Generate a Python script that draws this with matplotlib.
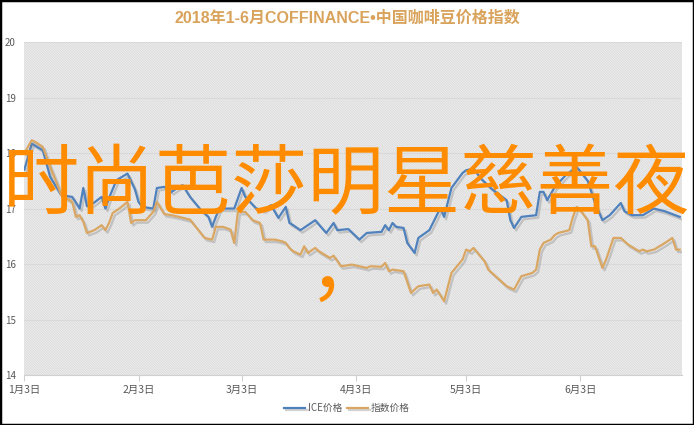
import datetime as dt
import matplotlib
matplotlib.use("Agg")
import matplotlib.pyplot as plt
import matplotlib.dates as mdates
import matplotlib.patheffects as pe
from matplotlib.patches import Rectangle

plt.rcParams['font.family'] = ['Noto Sans CJK SC', 'DejaVu Sans']
plt.rcParams['hatch.color'] = '#d2d2d2'
plt.rcParams['hatch.linewidth'] = 0.5

title = '2018年1-6月COFFINANCE•中国咖啡豆价格指数'
overlay = '时尚芭莎明星慈善夜\n，'
series_names = ['ICE价格', '指数价格']

ice_dates = ['01-03', '01-05', '01-08', '01-10', '01-13', '01-16', '01-18', '01-19', '01-20', '01-21',
             '01-24', '01-25', '01-26', '01-28', '01-31', '02-02', '02-03', '02-04', '02-07', '02-08',
             '02-10', '02-12', '02-14', '02-15', '02-17', '02-20', '02-22', '02-23', '02-24', '02-25',
             '03-01', '03-03', '03-04', '03-07', '03-09', '03-11', '03-13', '03-15', '03-16', '03-17',
             '03-19', '03-21', '03-23', '03-26', '03-28', '03-29', '04-01', '04-04', '04-06', '04-10',
             '04-11', '04-12', '04-13', '04-14', '04-16', '04-17', '04-19', '04-20', '04-23', '04-26',
             '04-27', '04-29', '05-02', '05-03', '05-05', '05-07', '05-10', '05-14', '05-15', '05-16',
             '05-18', '05-22', '05-23', '05-24', '05-25', '05-27', '05-30', '06-02', '06-05', '06-07',
             '06-09', '06-11', '06-14', '06-15', '06-17', '06-20', '06-23', '06-26', '06-30']
ice_values = [17.70, 18.17, 18.05, 17.57, 17.24, 17.21, 17.00, 17.37, 17.04, 17.06,
              17.21, 17.00, 17.19, 17.51, 17.63, 17.35, 17.12, 17.03, 17.00, 17.37,
              17.39, 17.30, 17.39, 17.42, 17.21, 16.97, 16.85, 16.67, 16.85, 17.00,
              17.00, 17.37, 17.21, 17.00, 16.97, 17.06, 16.83, 17.03, 16.74, 16.70,
              16.61, 16.70, 16.79, 16.56, 16.74, 16.61, 16.63, 16.44, 16.56, 16.58,
              16.70, 16.61, 16.74, 16.67, 16.65, 16.38, 16.20, 16.47, 16.61, 17.01,
              16.85, 17.37, 17.64, 17.69, 17.72, 17.54, 17.35, 17.15, 16.79, 16.65,
              16.85, 16.88, 17.30, 17.30, 17.15, 17.38, 17.60, 17.75, 17.50, 17.10,
              16.79, 16.88, 17.10, 16.95, 16.88, 16.88, 17.00, 16.95, 16.85]

idx_dates = ['01-03', '01-05', '01-06', '01-08', '01-10', '01-12', '01-13', '01-16', '01-17', '01-18',
             '01-19', '01-20', '01-22', '01-24', '01-25', '01-26', '01-27', '01-29', '01-31', '02-01',
             '02-02', '02-05', '02-07', '02-08', '02-10', '02-12', '02-14', '02-17', '02-20', '02-21',
             '02-23', '02-24', '02-26', '02-28', '03-01', '03-02', '03-04', '03-06', '03-08', '03-09',
             '03-12', '03-14', '03-15', '03-16', '03-17', '03-19', '03-20', '03-21', '03-23', '03-24',
             '03-27', '03-28', '03-30', '04-02', '04-06', '04-07', '04-10', '04-11', '04-12', '04-13',
             '04-16', '04-18', '04-20', '04-23', '04-24', '04-25', '04-27', '04-29', '05-02', '05-03',
             '05-04', '05-05', '05-08', '05-09', '05-12', '05-14', '05-16', '05-18', '05-21', '05-22',
             '05-23', '05-24', '05-26', '05-27', '05-28', '05-31', '06-01', '06-02', '06-03', '06-05',
             '06-06', '06-07', '06-09', '06-10', '06-12', '06-14', '06-16', '06-19', '06-20', '06-21',
             '06-23', '06-26', '06-28', '06-29', '06-30']
idx_values = [18.00, 18.23, 18.20, 18.11, 17.75, 17.42, 17.24, 17.12, 16.85, 16.88,
              16.76, 16.56, 16.61, 16.70, 16.61, 16.74, 16.92, 17.01, 17.12, 16.74,
              16.79, 16.79, 16.94, 17.12, 16.90, 16.88, 16.85, 16.80, 16.55, 16.47,
              16.44, 16.67, 16.67, 16.62, 16.38, 16.94, 16.94, 16.79, 16.74, 16.44,
              16.44, 16.41, 16.38, 16.29, 16.23, 16.17, 16.32, 16.20, 16.29, 16.23,
              16.11, 16.15, 15.96, 15.99, 15.93, 15.96, 15.95, 16.02, 15.87, 15.90,
              15.87, 15.48, 15.60, 15.63, 15.48, 15.54, 15.33, 15.84, 16.08, 16.26,
              16.23, 16.29, 16.05, 15.90, 15.72, 15.60, 15.54, 15.78, 15.84, 15.90,
              16.26, 16.38, 16.44, 16.52, 16.56, 16.61, 16.85, 17.03, 16.97, 16.79,
              16.32, 16.32, 15.93, 16.08, 16.47, 16.47, 16.35, 16.23, 16.26, 16.23,
              16.26, 16.38, 16.47, 16.26, 16.26]

tick_dates = ['01-03', '02-03', '03-03', '04-03', '05-03', '06-03']
tick_labels = ['1月3日', '2月3日', '3月3日', '4月3日', '5月3日', '6月3日']


def to_date(s):
    m, d = s.split('-')
    return dt.date(2018, int(m), int(d))


fig = plt.figure(figsize=(6.94, 4.25), dpi=100)
ax = fig.add_axes([0.0346, 0.1176, 0.948, 0.7834])

# diagonal pattern fill of the plot area
ax.patch.set_facecolor('white')
ax.add_patch(Rectangle((0, 0), 1, 1, transform=ax.transAxes, facecolor='none',
                       hatch='\\' * 20, linewidth=0, zorder=0))

shadow = [pe.SimpleLineShadow(offset=(1.5, -1.8), shadow_color='#808080', alpha=0.35),
          pe.Normal()]
ax.plot([to_date(s) for s in ice_dates], ice_values, color='#4f81bd', lw=1.6,
        label=series_names[0], path_effects=shadow, zorder=3)
ax.plot([to_date(s) for s in idx_dates], idx_values, color='#d9a763', lw=1.6,
        label=series_names[1], path_effects=shadow, zorder=3)

ax.set_ylim(14, 20)
ax.set_xlim(mdates.date2num(dt.date(2018, 1, 3)) - 0.1, mdates.date2num(dt.date(2018, 6, 30)) + 0.6)
ax.set_yticks(range(14, 21))
ax.set_xticks([to_date(s) for s in tick_dates])
ax.set_xticklabels(tick_labels)
ax.grid(axis='y', color='#d9d9d9', lw=0.8, zorder=1)
for side in ['top', 'right', 'left']:
    ax.spines[side].set_visible(False)
ax.spines['bottom'].set_color('#d0d0d0')
ax.tick_params(axis='y', length=0, labelsize=7, labelcolor='#595959', pad=6)
ax.tick_params(axis='x', length=4, color='#d0d0d0', labelsize=7.5, labelcolor='#595959', pad=3)

fig.text(0.5, 0.958, title, ha='center', va='center', fontsize=11.5, fontweight='bold',
         color='#d9a35c', family=['Liberation Sans', 'Noto Sans CJK SC'])

leg = fig.legend(loc='center', bbox_to_anchor=(0.5, 0.04), ncol=2, frameon=False, fontsize=7,
                 handlelength=2.2, handletextpad=0.3, columnspacing=0.4)
for t in leg.get_texts():
    t.set_color('#595959')

fig.text(0.5, 0.655, overlay, ha='center', va='top', fontsize=55, color='#ff8c00',
         linespacing=1.12, multialignment='center')

fig.add_artist(Rectangle((0, 0), 1, 1, transform=fig.transFigure, fill=False,
                         edgecolor='black', linewidth=2.5))

fig.savefig('out.png', dpi=100)
